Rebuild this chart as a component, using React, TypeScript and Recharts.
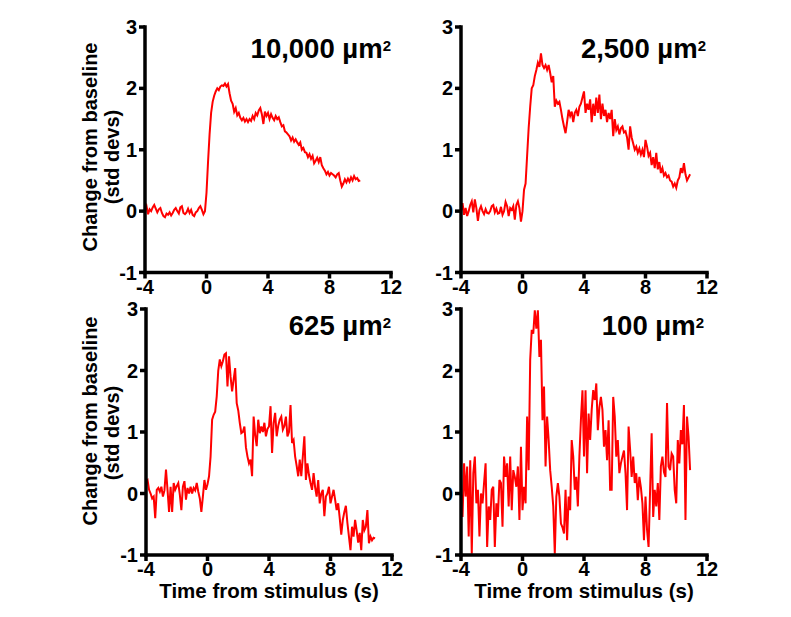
import React from 'react';
import { LineChart, Line, XAxis, YAxis } from 'recharts';

const FONT = '"Liberation Sans", Arial, Helvetica, sans-serif';

// sampling grid of the traces (s)
const T_START = -4;
const T_STEP = 0.1;

const X_TICKS = [-4, 0, 4, 8, 12];
const Y_TICKS = [-1, 0, 1, 2, 3];

const TITLES = ['10,000 µm', '2,500 µm', '625 µm', '100 µm'];

// 10,000 µm² (-4 .. 10 s)
const trace10000 = [
  0.02, 0.08, -0.05, 0.03, 0.0, 0.06, 0.1, 0.04, -0.02, 0.03,
  0.05, -0.03, -0.08, -0.1, -0.04, -0.06, -0.02, -0.07, -0.03, 0.02,
  0.05, 0.0, -0.04, 0.06, 0.08, -0.03, -0.05, -0.02, 0.04, -0.03,
  0.02, -0.06, -0.08, -0.02, 0.0, 0.05, 0.08, 0.02, -0.05, 0.0,
  0.3, 0.8, 1.25, 1.6, 1.78, 1.88, 1.95, 2.0, 1.97, 2.03,
  2.05, 2.04, 2.08, 2.03, 2.07, 1.92, 1.8, 1.75, 1.62, 1.68,
  1.56, 1.6, 1.52, 1.48, 1.52, 1.46, 1.5, 1.45, 1.5, 1.47,
  1.55, 1.5, 1.6, 1.56, 1.64, 1.68, 1.58, 1.42, 1.62, 1.55,
  1.6, 1.5, 1.58, 1.52, 1.48, 1.55, 1.5, 1.53, 1.45, 1.38,
  1.4, 1.3, 1.28, 1.25, 1.22, 1.15, 1.2, 1.13, 1.17, 1.12,
  1.08, 1.12, 1.0, 1.03, 0.96, 0.95, 0.88, 0.93, 0.85, 0.9,
  0.78, 0.82, 0.87, 0.8, 0.88, 0.75, 0.7, 0.66, 0.6, 0.64,
  0.58, 0.62, 0.6, 0.58, 0.55, 0.6, 0.62, 0.5, 0.4, 0.45,
  0.52, 0.47, 0.53, 0.48, 0.55, 0.5, 0.57, 0.52, 0.54, 0.49,
  0.5,
];

// 2,500 µm² (-4 .. 10.9 s)
const trace2500 = [
  0.0, 0.13, -0.06, 0.05, -0.08, 0.0, 0.1, 0.16, -0.02, 0.19,
  0.05, -0.16, 0.02, 0.08, 0.0, -0.05, 0.03, -0.03, -0.04, 0.0,
  0.08, 0.1, -0.02, 0.04, -0.04, -0.03, 0.07, -0.06, 0.0, 0.15,
  0.08, -0.08, 0.05, 0.02, 0.08, -0.14, 0.1, 0.16, 0.05, -0.17,
  0.0, 0.35, 0.45, 0.9, 1.35, 1.7, 2.0, 2.05, 2.2, 2.3,
  2.42, 2.35, 2.57, 2.38, 2.33, 2.38, 2.3, 2.38, 2.25, 2.1,
  2.2, 1.7, 1.8, 1.75, 1.78, 1.65, 1.5, 1.38, 1.27, 1.45,
  1.65, 1.55, 1.62, 1.45, 1.6, 1.65, 1.55, 1.7, 1.75, 1.85,
  1.95, 1.6, 1.75, 1.65, 1.82, 1.45, 1.75, 1.55, 1.85, 1.6,
  1.9, 1.5, 1.75, 1.55, 1.65, 1.45, 1.6, 1.5, 1.65, 1.22,
  1.5, 1.32, 1.38, 1.25, 1.35, 1.38, 1.28, 1.3, 1.2, 1.0,
  1.38, 1.2, 1.1, 1.0, 1.05, 0.95, 1.02, 0.92, 1.0, 0.88,
  1.16, 1.05, 0.9, 0.95, 0.75, 0.88, 0.7, 0.95, 0.68, 0.8,
  0.62, 0.7, 0.58, 0.62, 0.55, 0.58, 0.5, 0.48, 0.4, 0.45,
  0.38, 0.5, 0.55, 0.7, 0.62, 0.78, 0.6, 0.5, 0.55, 0.6,
];

// 625 µm² (-4 .. 10.9 s)
const trace625 = [
  0.2, 0.22, 0.06, 0.0, -0.08, -0.05, -0.4, 0.06, 0.09, 0.03,
  0.11, -0.05, 0.05, 0.39, 0.06, -0.3, 0.11, -0.3, 0.17, 0.06,
  0.12, 0.17, -0.02, -0.27, 0.11, 0.2, -0.1, 0.09, 0.0, 0.11,
  0.0, 0.09, 0.05, 0.17, 0.03, -0.08, -0.3, -0.05, 0.22, 0.06,
  0.15, 0.28, 0.6, 1.2, 1.28, 1.33, 1.58, 2.0, 2.18, 2.07,
  2.15, 2.26, 2.28, 1.74, 2.23, 1.9, 1.66, 1.85, 2.04, 1.47,
  1.35, 1.15, 0.98, 1.0, 1.09, 0.75, 0.6, 0.49, 0.55, 0.28,
  1.25, 0.95, 0.77, 1.2, 0.98, 1.09, 1.0, 1.15, 0.93, 1.05,
  1.09, 1.42, 0.66, 1.15, 1.31, 0.93, 1.1, 1.2, 1.25, 1.04,
  1.1, 1.25, 0.93, 1.0, 1.44, 0.82, 0.87, 0.6, 0.45, 0.28,
  0.55, 0.28, 0.6, 0.93, 0.22, 0.49, 0.3, 0.17, 0.06, 0.33,
  0.1, -0.05, 0.22, -0.16, 0.0, 0.06, -0.37, -0.05, 0.0, 0.11,
  -0.16, -0.05, 0.06, -0.1, -0.27, -0.16, -0.4, -0.67, -0.43, -0.3,
  -0.2, -0.48, -0.7, -0.92, -0.54, -0.7, -0.43, -0.6, -0.8, -0.64,
  -0.92, -0.43, -0.6, -0.54, -0.27, -0.81, -0.7, -0.76, -0.72, -0.73,
];

// 100 µm² (-4 .. 10.9 s)
const trace100 = [
  0.0, -0.38, 0.49, -0.05, 0.44, -0.7, 0.54, -0.98, 0.33, 0.6,
  -0.16, 0.06, -0.7, 0.0, -0.16, 0.17, 0.49, -0.87, -0.21, -0.43,
  0.06, 0.11, -0.87, -0.16, -0.38, 0.22, 0.17, -0.54, 0.6, 0.27,
  0.49, -0.21, 0.6, -0.27, 0.38, 0.27, 0.11, 0.44, -0.43, 0.76,
  -0.27, 0.11, -0.16, 1.25, 0.38, 2.17, 2.66, 2.6, 2.98, 2.68,
  2.98, 2.22, 2.5, 1.19, 1.74, 0.44, 1.25, 0.87, 0.38, 0.11,
  -0.21, -0.98, -0.05, 0.17, -0.05, -0.49, -0.55, -0.65, 0.06, -0.76,
  -0.05, -0.27, 0.87, 0.6, 0.06, 0.27, -0.21, 0.6, 1.2, 1.68,
  0.6, 1.68, 0.33, 1.3, 0.87, 1.36, 1.68, 1.52, 1.79, 1.03,
  1.4, 1.57, 1.36, 0.76, 1.03, 0.54, 1.19, 0.06, 0.06, 1.57,
  1.25, 0.6, 0.87, 0.33, 0.49, 0.6, 0.7, 0.33, -0.27, 1.09,
  0.71, 0.27, 0.6, 0.17, 0.33, -0.11, 0.27, 0.1, -0.16, -0.76,
  -0.05, -0.59, -0.87, 0.06, 0.98, -0.38, 0.06, -0.21, 0.17, -0.43,
  0.44, 0.6, 0.35, 0.27, 1.47, 0.44, 0.38, 0.65, 0.6, 0.06,
  -0.16, 0.87, 0.49, 1.03, 0.8, 1.44, -0.43, 1.25, 0.92, 0.38,
];

const toRows = (values: number[]) =>
  values.map((v, i) => ({ t: Math.round((T_START + i * T_STEP) * 10) / 10, v }));

const axisStyle = { stroke: '#000', strokeWidth: 3.5, strokeLinecap: 'square' as const };
const tickLineStyle = { stroke: '#000', strokeWidth: 3.5 };
const tickStyle = { fill: '#000', fontSize: 20, fontWeight: 'bold', fontFamily: FONT };

// plot box: [left, right, top, bottom] in page pixels
type Box = [number, number, number, number];

function Panel({ box, values }: { box: Box; values: number[] }) {
  const [x0, x1, y0, y1] = box;
  return (
    <div style={{ position: 'absolute', left: x0 - 60, top: y0 - 20 }}>
      <LineChart
        width={x1 - x0 + 80}
        height={y1 - y0 + 60}
        data={toRows(values)}
        margin={{ top: 20, right: 20, bottom: 10, left: 10 }}
        style={{ overflow: 'visible' }}
      >
        <XAxis
          dataKey="t"
          type="number"
          domain={[-4, 12]}
          ticks={X_TICKS}
          interval={0}
          height={30}
          tickSize={6}
          tickMargin={1}
          axisLine={axisStyle}
          tickLine={tickLineStyle}
          tick={tickStyle}
        />
        <YAxis
          type="number"
          domain={[-1, 3]}
          ticks={Y_TICKS}
          interval={0}
          width={50}
          tickSize={6}
          tickMargin={2}
          axisLine={axisStyle}
          tickLine={tickLineStyle}
          tick={tickStyle}
        />
        <Line
          type="linear"
          dataKey="v"
          stroke="#ff0000"
          strokeWidth={2}
          dot={false}
          isAnimationActive={false}
        />
      </LineChart>
    </div>
  );
}

export default function App() {
  const titleY = [58, 58, 335, 335];
  const titleX = [391, 706, 391, 704];
  return (
    <div
      style={{
        position: 'absolute',
        left: 0,
        top: 0,
        width: 791,
        height: 617,
        background: '#fff',
        fontFamily: FONT,
      }}
    >
      <Panel box={[145, 391, 27, 272.5]} values={trace10000} />
      <Panel box={[461, 707, 27, 272.5]} values={trace2500} />
      <Panel box={[146, 392, 309, 555]} values={trace625} />
      <Panel box={[461, 707, 309, 555]} values={trace100} />

      <svg
        width={791}
        height={617}
        style={{ position: 'absolute', left: 0, top: 0, pointerEvents: 'none' }}
        fontFamily={FONT}
        fontWeight="bold"
        fill="#000"
      >
        {TITLES.map((t, i) => (
          <text key={t} x={titleX[i]} y={titleY[i]} textAnchor="end" fontSize={27.5}>
            {t}
            <tspan fontSize={15} dy={-7.5}>2</tspan>
          </text>
        ))}

        <text transform="translate(97,147) rotate(-90)" textAnchor="middle" fontSize={20}>
          Change from baseline
        </text>
        <text transform="translate(119,157) rotate(-90)" textAnchor="middle" fontSize={20}>
          (std devs)
        </text>
        <text transform="translate(97,421) rotate(-90)" textAnchor="middle" fontSize={20}>
          Change from baseline
        </text>
        <text transform="translate(119,433) rotate(-90)" textAnchor="middle" fontSize={20}>
          (std devs)
        </text>

        <text x={269} y={598} textAnchor="middle" fontSize={20.5}>
          Time from stimulus (s)
        </text>
        <text x={584} y={598} textAnchor="middle" fontSize={20.5}>
          Time from stimulus (s)
        </text>
      </svg>
    </div>
  );
}
